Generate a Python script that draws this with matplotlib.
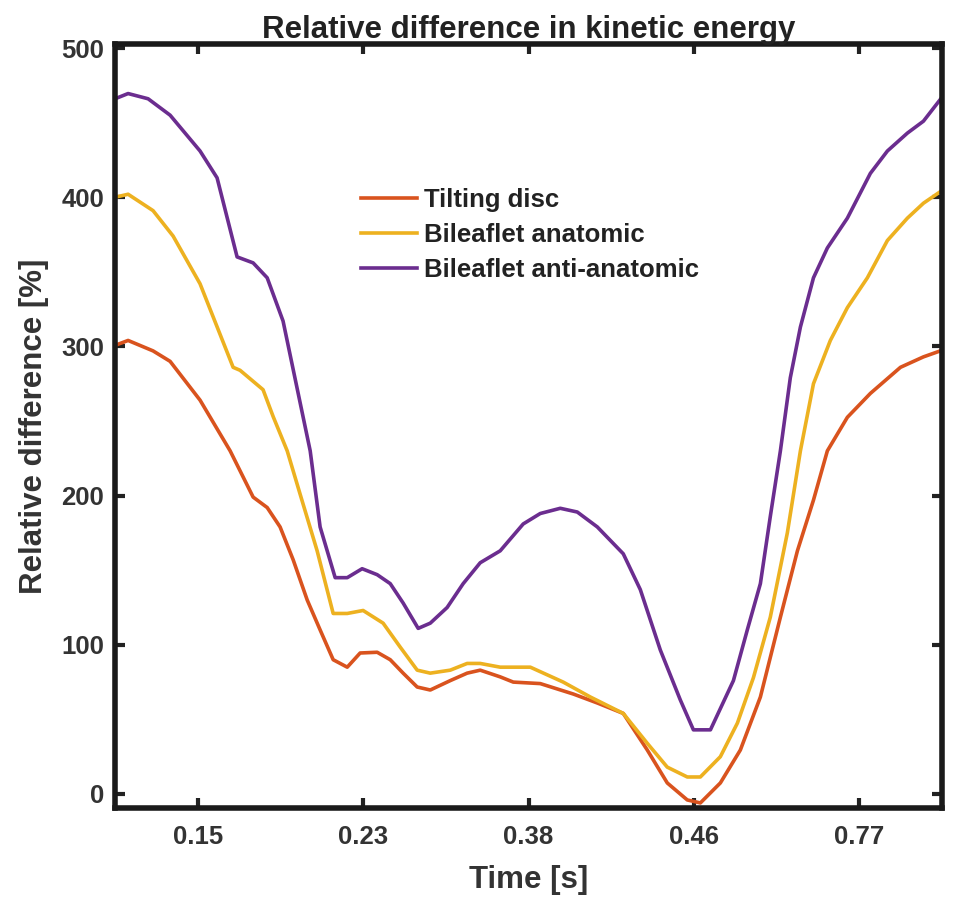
import matplotlib
matplotlib.use("Agg")
import matplotlib.pyplot as plt

# x is in tick units: the five time labels sit at 1..5
tick_pos = [1, 2, 3, 4, 5]
tick_labels = ["0.15", "0.23", "0.38", "0.46", "0.77"]

x_tilting = [0.50, 0.579, 0.730, 0.833, 1.014, 1.196, 1.335, 1.420, 1.498, 1.577,
             1.662, 1.740, 1.819, 1.904, 1.982, 2.085, 2.164, 2.242, 2.327, 2.406,
             2.527, 2.629, 2.708, 2.829, 2.908, 3.071, 3.271, 3.416, 3.573, 3.718,
             3.839, 3.960, 4.039, 4.160, 4.281, 4.402, 4.523, 4.626, 4.723, 4.807,
             4.928, 5.067, 5.249, 5.388, 5.5]
y_tilting = [300.7, 304, 297, 290, 264, 230, 199, 192, 179, 157,
             130, 110, 90, 85, 94.5, 95, 90, 81, 71.7, 69.7,
             76, 81, 83, 78.5, 75, 74, 67, 61, 54, 29.5,
             7.4, -4, -6, 7.4, 29.5, 65, 118.5, 163, 197, 230,
             252.5, 268.5, 286, 293, 297.4]

x_anat = [0.50, 0.579, 0.730, 0.851, 1.014, 1.214, 1.256, 1.395, 1.456, 1.541,
          1.619, 1.722, 1.819, 1.904, 2.000, 2.121, 2.224, 2.327, 2.406, 2.527,
          2.629, 2.708, 2.829, 3.011, 3.210, 3.374, 3.573, 3.718, 3.839, 3.960,
          4.039, 4.160, 4.263, 4.360, 4.462, 4.565, 4.644, 4.723, 4.825, 4.928,
          5.049, 5.170, 5.291, 5.388, 5.5]
y_anat = [400, 402, 391, 374, 342, 286, 284, 271, 253, 230,
          201, 163, 121, 121, 123, 114.5, 98.5, 83, 81, 83,
          87.5, 87.5, 85, 85, 75, 65, 54, 34, 18, 11.4,
          11.4, 25, 47.5, 78, 118.5, 175, 230, 275, 304, 326,
          346, 371, 386, 396, 404.5]

x_anti = [0.50, 0.579, 0.700, 0.833, 1.014, 1.117, 1.238, 1.335, 1.420, 1.516, 1.680,
          1.740, 1.831, 1.904, 1.994, 2.085, 2.164, 2.242, 2.333, 2.406, 2.508,
          2.605, 2.708, 2.829, 2.968, 3.071, 3.192, 3.295, 3.416, 3.573, 3.676,
          3.797, 3.918, 3.997, 4.100, 4.239, 4.323, 4.402, 4.462, 4.523, 4.583,
          4.644, 4.723, 4.807, 4.928, 5.067, 5.170, 5.291, 5.388, 5.5]
y_anti = [466, 469.5, 466, 455, 431, 413, 360, 356, 346, 317, 230,
          179, 145, 145, 151, 147, 141, 128, 111, 114.5, 125,
          141, 155, 163, 181, 188, 191.5, 189, 179, 161, 137,
          96.5, 63, 43, 43, 76, 110, 141, 186, 230, 279,
          313, 346, 366, 386, 416, 431, 443, 451, 467]

plt.rcParams['font.family'] = ['Liberation Sans', 'DejaVu Sans']
plt.rcParams['font.weight'] = 'bold'

fig = plt.figure(figsize=(9.57, 9.02), dpi=100)
ax = fig.add_axes([0.1202, 0.1042, 0.8641, 0.847])

ax.plot(x_tilting, y_tilting, color="#D9531E", lw=2.6, label="Tilting disc")
ax.plot(x_anat, y_anat, color="#EDB120", lw=2.6, label="Bileaflet anatomic")
ax.plot(x_anti, y_anti, color="#6B2D8F", lw=2.6, label="Bileaflet anti-anatomic")

ax.set_xlim(0.5, 5.5)
ax.set_ylim(-9.4, 502.7)
ax.set_xticks(tick_pos)
ax.set_xticklabels(tick_labels)
ax.set_yticks([0, 100, 200, 300, 400, 500])

ax.tick_params(direction="in", length=7, width=3, top=True, right=True,
               labelsize=18.5, pad=12, colors="#222222")
ax.tick_params(axis="x", labelcolor="#333333")
ax.tick_params(axis="y", labelcolor="#333333", pad=8)
for s in ax.spines.values():
    s.set_linewidth(4)
    s.set_color("#1a1a1a")

ax.set_title("Relative difference in kinetic energy", fontsize=22.5,
             fontweight="bold", pad=4, color="#222222")
ax.set_xlabel("Time [s]", fontsize=22.5, fontweight="bold", color="#333333", labelpad=12)
ax.set_ylabel("Relative difference [%]", fontsize=22.5, fontweight="bold",
              color="#333333", labelpad=9)

leg = ax.legend(loc="upper left", bbox_to_anchor=(0.297, 0.811), frameon=False,
                fontsize=18.5, handlelength=2.2, handletextpad=0.25,
                labelspacing=0.42, borderaxespad=0, borderpad=0)
for t in leg.get_texts():
    t.set_color("#222222")

fig.savefig("out.png", dpi=100)
